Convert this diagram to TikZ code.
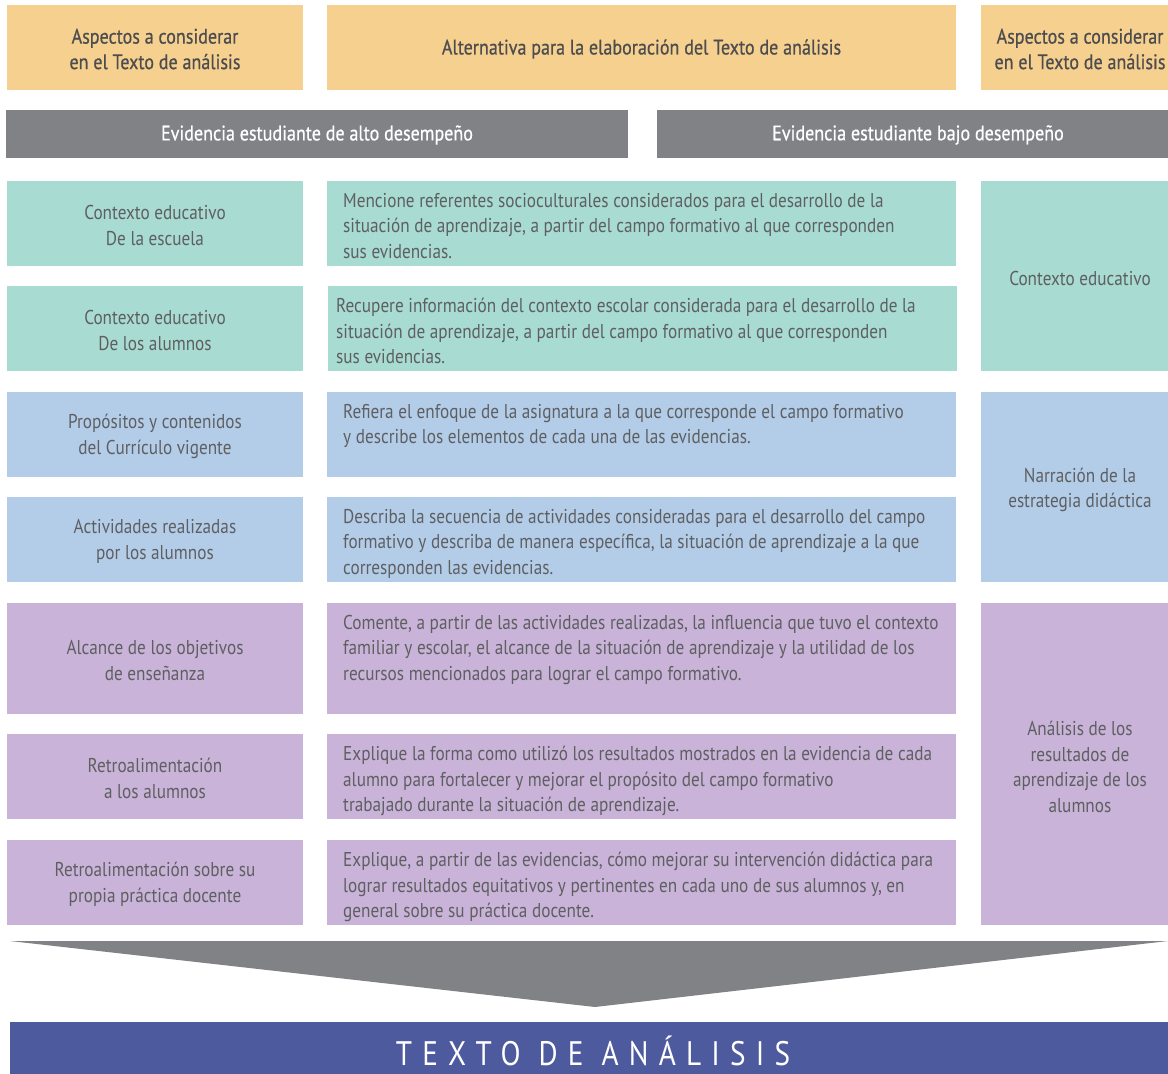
\documentclass[tikz,border=0pt]{standalone}
\usepackage{fontspec}
\setmainfont{PT Sans}[FakeStretch=0.86]
\newfontfamily\hfont{PT Sans}[FakeStretch=0.86,FakeBold=0.6]
\newfontfamily\spacedfont{PT Sans}[FakeStretch=0.86,LetterSpace=30]
\definecolor{hdr}{HTML}{F5D08E}
\definecolor{bar}{HTML}{808285}
\definecolor{teal}{HTML}{A8DBD2}
\definecolor{sky}{HTML}{B3CDE9}
\definecolor{lil}{HTML}{C9B3D8}
\definecolor{navy}{HTML}{4E5A9E}
\definecolor{txt}{HTML}{5E5F61}
\definecolor{htxt}{HTML}{4D4D4F}
\tikzset{
  box/.style={draw=none, inner sep=0pt, outer sep=0pt, anchor=north west},
  lefttxt/.style={align=center, text=txt, font=\fontsize{20}{25.5}\selectfont},
  midtxt/.style={anchor=north west, inner sep=0pt, align=left, text=txt, font=\fontsize{20}{25.5}\selectfont},
  hdrtxt/.style={align=center, text=htxt, font=\hfont\fontsize{21}{25.5}\selectfont},
  bartxt/.style={text=white, font=\hfont\fontsize{21}{25.5}\selectfont},
}
\begin{document}
\begin{tikzpicture}[x=1pt,y=-1pt]
\useasboundingbox (0,0) rectangle (1168,1074);
% header row
\node[box, fill=hdr, minimum width=296pt, minimum height=85pt] (h1) at (7,5) {};
\node[hdrtxt] (h1t) at (155,49) {Aspectos a considerar\\en el Texto de análisis};
\node[box, fill=hdr, minimum width=629pt, minimum height=85pt] (h2) at (327,5) {};
\node[hdrtxt] (h2t) at (641.5,49) {Alternativa para la elaboración del Texto de análisis};
\node[box, fill=hdr, minimum width=187pt, minimum height=85pt] (h3) at (981,5) {};
\node[hdrtxt] (h3t) at (1080,49) {Aspectos a considerar\\en el Texto de análisis};
% gray bars
\node[box, fill=bar, minimum width=622pt, minimum height=48pt] (b1) at (6,110) {};
\node[bartxt] (b1t) at (317,135) {Evidencia estudiante de alto desempeño};
\node[box, fill=bar, minimum width=511pt, minimum height=48pt] (b2) at (657,110) {};
\node[bartxt] (b2t) at (918,135) {Evidencia estudiante bajo desempeño};
% left column
\node[box, fill=teal, minimum width=296pt, minimum height=85pt] (l1) at (7,181) {};
\node[lefttxt] (l1t) at ([yshift=-2pt]l1.center) {Contexto educativo\\De la escuela};
\node[box, fill=teal, minimum width=296pt, minimum height=85pt] (l2) at (7,286) {};
\node[lefttxt] (l2t) at ([yshift=-2pt]l2.center) {Contexto educativo\\De los alumnos};
\node[box, fill=sky, minimum width=296pt, minimum height=85pt] (l3) at (7,392) {};
\node[lefttxt] (l3t) at ([yshift=-2pt]l3.center) {Propósitos y contenidos\\del Currículo vigente};
\node[box, fill=sky, minimum width=296pt, minimum height=85pt] (l4) at (7,497) {};
\node[lefttxt] (l4t) at ([yshift=-2pt]l4.center) {Actividades realizadas\\por los alumnos};
\node[box, fill=lil, minimum width=296pt, minimum height=111pt] (l5) at (7,603) {};
\node[lefttxt] (l5t) at ([yshift=-2pt]l5.center) {Alcance de los objetivos\\de enseñanza};
\node[box, fill=lil, minimum width=296pt, minimum height=85pt] (l6) at (7,734) {};
\node[lefttxt] (l6t) at ([yshift=-2pt]l6.center) {Retroalimentación\\a los alumnos};
\node[box, fill=lil, minimum width=296pt, minimum height=85pt] (l7) at (7,840) {};
\node[lefttxt] (l7t) at ([yshift=-2pt]l7.center) {Retroalimentación sobre su\\propia práctica docente};
% middle column
\node[box, fill=teal, minimum width=629pt, minimum height=85pt] (m1) at (327,181) {};
\node[midtxt] (m1t) at ([shift={(16pt,-12pt)}]m1.north west) {Mencione referentes socioculturales considerados para el desarrollo de la\\situación de aprendizaje, a partir del campo formativo al que corresponden\\sus evidencias.};
\node[box, fill=teal, minimum width=629pt, minimum height=85pt] (m2) at (328,286) {};
\node[midtxt] (m2t) at ([shift={(8pt,-12pt)}]m2.north west) {Recupere información del contexto escolar considerada para el desarrollo de la\\situación de aprendizaje, a partir del campo formativo al que corresponden\\sus evidencias.};
\node[box, fill=sky, minimum width=629pt, minimum height=85pt] (m3) at (327,392) {};
\node[midtxt] (m3t) at ([shift={(16pt,-12pt)}]m3.north west) {Refiera el enfoque de la asignatura a la que corresponde el campo formativo\\y describe los elementos de cada una de las evidencias.};
\node[box, fill=sky, minimum width=629pt, minimum height=85pt] (m4) at (327,497) {};
\node[midtxt] (m4t) at ([shift={(16pt,-12pt)}]m4.north west) {Describa la secuencia de actividades consideradas para el desarrollo del campo\\formativo y describa de manera específica, la situación de aprendizaje a la que\\corresponden las evidencias.};
\node[box, fill=lil, minimum width=629pt, minimum height=111pt] (m5) at (327,603) {};
\node[midtxt] (m5t) at ([shift={(16pt,-12pt)}]m5.north west) {Comente, a partir de las actividades realizadas, la influencia que tuvo el contexto\\familiar y escolar, el alcance de la situación de aprendizaje y la utilidad de los\\recursos mencionados para lograr el campo formativo.};
\node[box, fill=lil, minimum width=629pt, minimum height=85pt] (m6) at (327,734) {};
\node[midtxt] (m6t) at ([shift={(16pt,-12pt)}]m6.north west) {Explique la forma como utilizó los resultados mostrados en la evidencia de cada\\alumno para fortalecer y mejorar el propósito del campo formativo\\trabajado durante la situación de aprendizaje.};
\node[box, fill=lil, minimum width=629pt, minimum height=85pt] (m7) at (327,840) {};
\node[midtxt] (m7t) at ([shift={(16pt,-12pt)}]m7.north west) {Explique, a partir de las evidencias, cómo mejorar su intervención didáctica para\\lograr resultados equitativos y pertinentes en cada uno de sus alumnos y, en\\general sobre su práctica docente.};
% right column
\node[box, fill=teal, minimum width=187pt, minimum height=190pt] (r1) at (981,181) {};
\node[lefttxt] (r1t) at (1080,278) {Contexto educativo};
\node[box, fill=sky, minimum width=187pt, minimum height=190pt] (r2) at (981,392) {};
\node[lefttxt] (r2t) at (1080,490) {Narración de la\\estrategia didáctica};
\node[box, fill=lil, minimum width=187pt, minimum height=322pt] (r3) at (981,603) {};
\node[lefttxt] (r3t) at (1080,767) {Análisis de los\\resultados de\\aprendizaje de los\\alumnos};
% funnel
\fill[bar] (10,941) -- (1168,941) -- (595,1007) -- cycle;
% bottom bar
\node[box, fill=navy, minimum width=1158pt, minimum height=52pt] (bot) at (10,1022) {};
\node[text=white, font=\spacedfont\fontsize{34}{34}\selectfont] (bott) at (593,1051) {TEXTO DE ANÁLISIS};
\end{tikzpicture}
\end{document}
